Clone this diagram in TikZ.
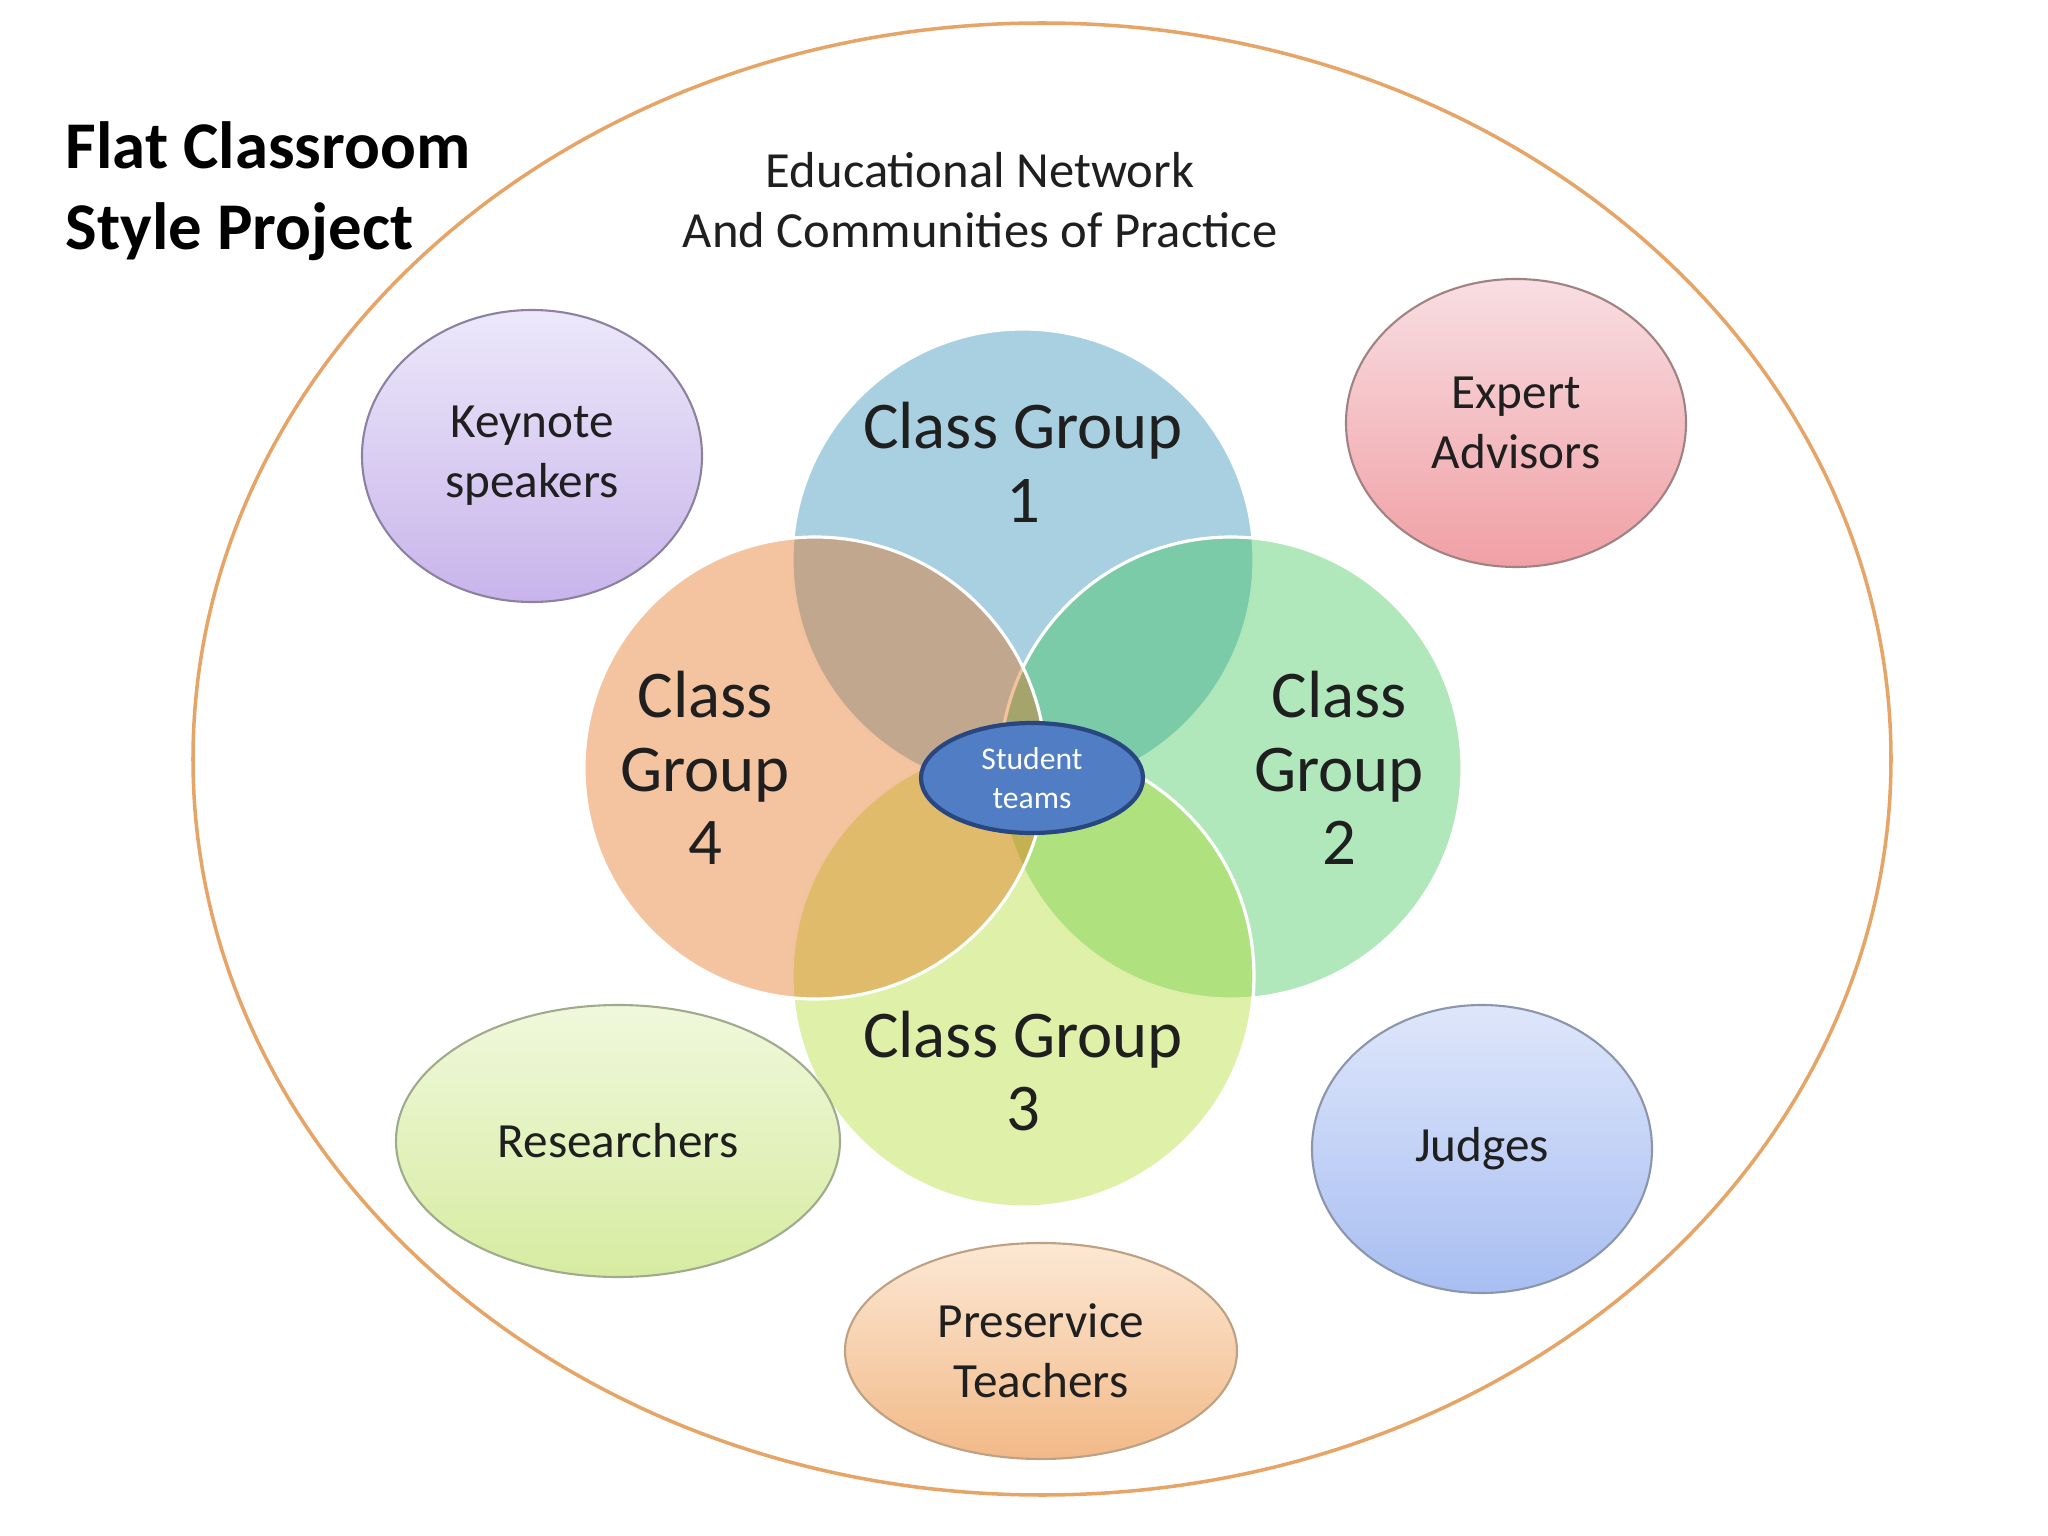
\documentclass[tikz,border=0pt]{standalone}
\usepackage{fontspec}
\setmainfont{Carlito}
\usepackage{xcolor}
\usetikzlibrary{
    shapes.geometric,
    positioning
}
\definecolor{netorange}{HTML}{E6A466}
\definecolor{groupblue}{HTML}{268AB2}
\definecolor{grouporange}{HTML}{E36B11}
\definecolor{groupgreen}{HTML}{39C557}
\definecolor{grouplime}{HTML}{AFD925}
\definecolor{teamsblue}{HTML}{507DC3}
\definecolor{teamsedge}{HTML}{28467F}
\definecolor{keytop}{HTML}{ECE8FA}
\definecolor{keybottom}{HTML}{C8B4EB}
\definecolor{keyedge}{HTML}{8C82A0}
\definecolor{experttop}{HTML}{F8DEE2}
\definecolor{expertbottom}{HTML}{F0A0A5}
\definecolor{expertedge}{HTML}{A08282}
\definecolor{restop}{HTML}{F0F8DC}
\definecolor{resbottom}{HTML}{D6ECA0}
\definecolor{resedge}{HTML}{A0AA8C}
\definecolor{judgetop}{HTML}{DEE6FA}
\definecolor{judgebottom}{HTML}{A8BEF2}
\definecolor{judgeedge}{HTML}{8C96AA}
\definecolor{pretop}{HTML}{FCE8D4}
\definecolor{prebottom}{HTML}{F2B987}
\definecolor{preedge}{HTML}{BEA082}

\begin{document}
\begin{tikzpicture}[
    group/.style={circle, draw=white, line width=0.9pt, minimum size=4.62cm, fill opacity=0.4, draw opacity=1},
    grouptext/.style={align=center, font=\fontsize{19}{21}\selectfont, text=black!88},
    party/.style={ellipse, draw, line width=0.6pt, inner sep=0pt, align=center, font=\fontsize{14}{17}\selectfont, text=black!88}
]
                        \useasboundingbox (0, 0) rectangle (20.48, -15.36);

                        \node[ellipse, draw=netorange, line width=1pt, minimum width=16.98cm, minimum height=14.72cm] (network) at (10.42, -7.59) {};

                        \node[anchor=west, align=left, inner sep=0pt, font=\bfseries\fontsize{19}{23}\selectfont] (title) at (0.65, -1.91) {Flat Classroom\\Style Project};
                        \node[align=center, font=\fontsize{14.4}{17}\selectfont, text=black!88] (networkname) at (9.8, -2.0) {Educational Network\\And Communities of Practice};

                        \node[group, fill=groupblue] (group1) at (10.23, -5.60) {};
                        \node[group, fill=groupgreen] (group2) at (12.31, -7.68) {};
                        \node[group, fill=grouplime] (group3) at (10.23, -9.76) {};
                        \node[group, fill=grouporange] (group4) at (8.15, -7.68) {};

                        \node[grouptext] (group1name) at (10.23, -4.62) {Class Group\\1};
                        \node[grouptext] (group4name) at (7.05, -7.68) {Class\\Group\\4};
                        \node[grouptext] (group2name) at (13.39, -7.68) {Class\\Group\\2};
                        \node[grouptext] (group3name) at (10.23, -10.71) {Class Group\\3};

                        \node[ellipse, draw=teamsedge, line width=1.2pt, fill=teamsblue, minimum width=2.22cm, minimum height=1.10cm, inner sep=0pt, align=center, text=white, font=\fontsize{9}{11}\selectfont] (teams) at (10.32, -7.78) {Student\\teams};

                        \node[party, draw=keyedge, top color=keytop, bottom color=keybottom] (keynote) [minimum width=3.40cm, minimum height=2.92cm] at (5.32, -4.56) {Keynote\\speakers};
                        \node[party, draw=expertedge, top color=experttop, bottom color=expertbottom] (experts) [minimum width=3.40cm, minimum height=2.88cm] at (15.16, -4.23) {Expert\\Advisors};
                        \node[party, draw=resedge, top color=restop, bottom color=resbottom] (researchers) [minimum width=4.44cm, minimum height=2.72cm] at (6.18, -11.41) {Researchers};
                        \node[party, draw=judgeedge, top color=judgetop, bottom color=judgebottom] (judges) [minimum width=3.40cm, minimum height=2.88cm] at (14.82, -11.49) {Judges};
                        \node[party, draw=preedge, top color=pretop, bottom color=prebottom] (preservice) [minimum width=3.92cm, minimum height=2.16cm] at (10.41, -13.51) {Preservice\\Teachers};
\end{tikzpicture}
\end{document}
